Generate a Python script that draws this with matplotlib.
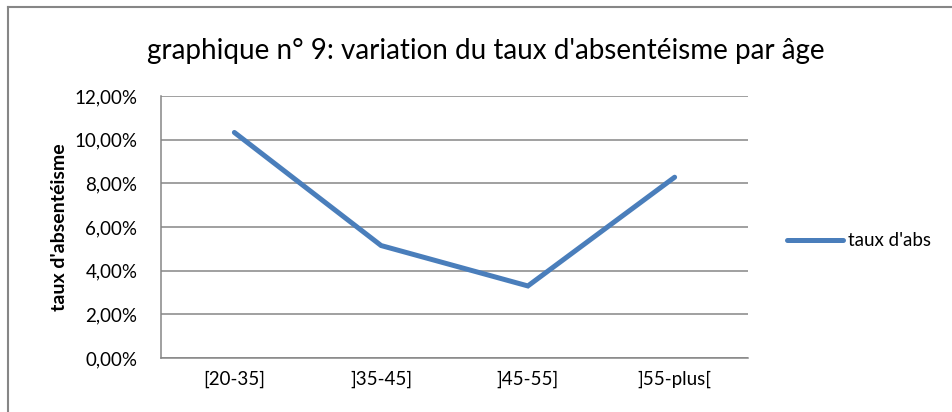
import matplotlib
matplotlib.use('Agg')
import matplotlib.pyplot as plt
from matplotlib.lines import Line2D
from matplotlib.ticker import FuncFormatter

# data
categories = ['[20-35]', ']35-45]', ']45-55]', ']55-plus[']
taux_abs = [0.1033, 0.0515, 0.0330, 0.0828]
series_name = "taux d'abs"

plt.rcParams['font.family'] = ['Lato', 'DejaVu Sans']

W, H = 953, 412
fig = plt.figure(figsize=(W / 100, H / 100), dpi=100)

# plot area in pixels: left 161, right 748, top 96, bottom 358
ax = fig.add_axes([161 / W, 1 - 358 / H, 587 / W, 262 / H])

grey = '#868686'
blue = '#4a7ebb'
fs = 13.5

x = list(range(len(categories)))
ax.plot(x, taux_abs, color=blue, linewidth=3.6, solid_capstyle='round',
        solid_joinstyle='miter', label=series_name, zorder=3)

ax.set_xlim(-0.5, len(categories) - 0.5)
ax.set_ylim(0, 0.12)
ax.set_yticks([i * 0.02 for i in range(7)])
ax.yaxis.set_major_formatter(FuncFormatter(lambda v, p: f'{v * 100:.2f}%'.replace('.', ',')))
ax.set_xticks(x)
ax.set_xticklabels(categories)

ax.grid(axis='y', color=grey, linewidth=1.1)
ax.set_axisbelow(True)
for side in ['top', 'right']:
    ax.spines[side].set_visible(False)
for side in ['left', 'bottom']:
    ax.spines[side].set_color(grey)
    ax.spines[side].set_linewidth(1.1)
ax.tick_params(axis='both', length=0, labelsize=fs, colors='black')
ax.tick_params(axis='y', pad=17)
ax.tick_params(axis='x', pad=9)

fig.text(60 / W, 1 - 227 / H, "taux d'absentéisme", rotation=90,
         ha='center', va='center', fontsize=14, fontweight='bold')

fig.text(486 / W, 1 - 51 / H, "graphique n° 9: variation du taux d'absentéisme par âge",
         ha='center', va='center', fontsize=20)

fs_px = fs * 100 / 72
fig.legend(handles=[Line2D([0], [0], color=blue, linewidth=3.6, solid_capstyle='round')],
           labels=[series_name], loc='center left',
           bbox_to_anchor=(787 / W, 1 - 241 / H), frameon=False, fontsize=fs,
           borderpad=0, borderaxespad=0, handlelength=56 / fs_px,
           handletextpad=5 / fs_px)

# chart border (top and left visible in the crop)
fig.add_artist(Line2D([8.5 / W, 8.5 / W], [0, 1 - 6.5 / H], color=grey, linewidth=1.5))
fig.add_artist(Line2D([8.5 / W, 1], [1 - 6.5 / H, 1 - 6.5 / H], color=grey, linewidth=1.5))

fig.savefig('out.png', dpi=100)
